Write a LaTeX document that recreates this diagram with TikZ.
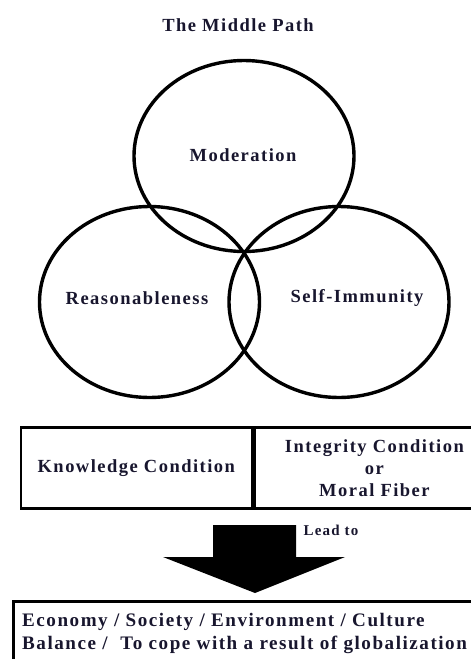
\documentclass[tikz,border=0pt]{standalone}
\usepackage{fontspec}
\newfontfamily\pathfont{Liberation Serif}[LetterSpace=8]
\usetikzlibrary{shapes.geometric,positioning}
\definecolor{inkblue}{RGB}{24,22,46}

\begin{document}
\begin{tikzpicture}[x=1pt,y=-1pt,
	ring/.style={draw,ellipse,line width=3.4pt,minimum width=220pt,minimum height=191pt,inner sep=0pt},
	cell/.style={draw,line width=2.6pt,minimum height=81pt,inner sep=0pt,align=center},
	word/.style={text=inkblue,inner sep=0pt,font=\pathfont\bfseries\fontsize{18.5}{22}\selectfont}]
	\useasboundingbox (0,0) rectangle (471,659);
	% title
	\node[word] (title) at (238,25) {The Middle Path};
	% the three rings
	\node[ring] (moderation) at (244,156) {};
	\node[ring] (reason) at (149.5,302) {};
	\node[ring] (immunity) at (339,302) {};
	\node[word] (modtext) at (243,155) {Moderation};
	\node[word] (reasontext) at (137,298) {Reasonableness};
	\node[word] (immtext) at (357,298) {Self-Immunity};
	% conditions
	\node[cell,word,anchor=north west,minimum width=231pt] (knowledge) at (19.5,426) {\raisebox{4pt}{Knowledge Condition}};
	\node[cell,word,anchor=north west,minimum width=240pt] (integrity) at (knowledge.north east)
		{Integrity Condition\\ or\\ Moral Fiber};
	% block arrow
	\fill[black] (213,525) -- (296,525) -- (296,557) -- (345,557) -- (255,593)
		-- (163,557) -- (213,557) -- cycle;
	\node[word,font=\pathfont\bfseries\fontsize{15}{17}\selectfont] (lead) at (331,530) {Lead to};
	% result
	\node[draw,line width=3pt,anchor=north west,minimum width=470pt,minimum height=70pt] (outcome) at (11.5,600) {};
	\node[word,font=\pathfont\bfseries\fontsize{19.1}{23}\selectfont,anchor=north west,align=left] (outcometext) at (22,613)
		{Economy / Society / Environment / Culture\\ Balance /\ \ To cope with a result of globalization};
\end{tikzpicture}
\end{document}
